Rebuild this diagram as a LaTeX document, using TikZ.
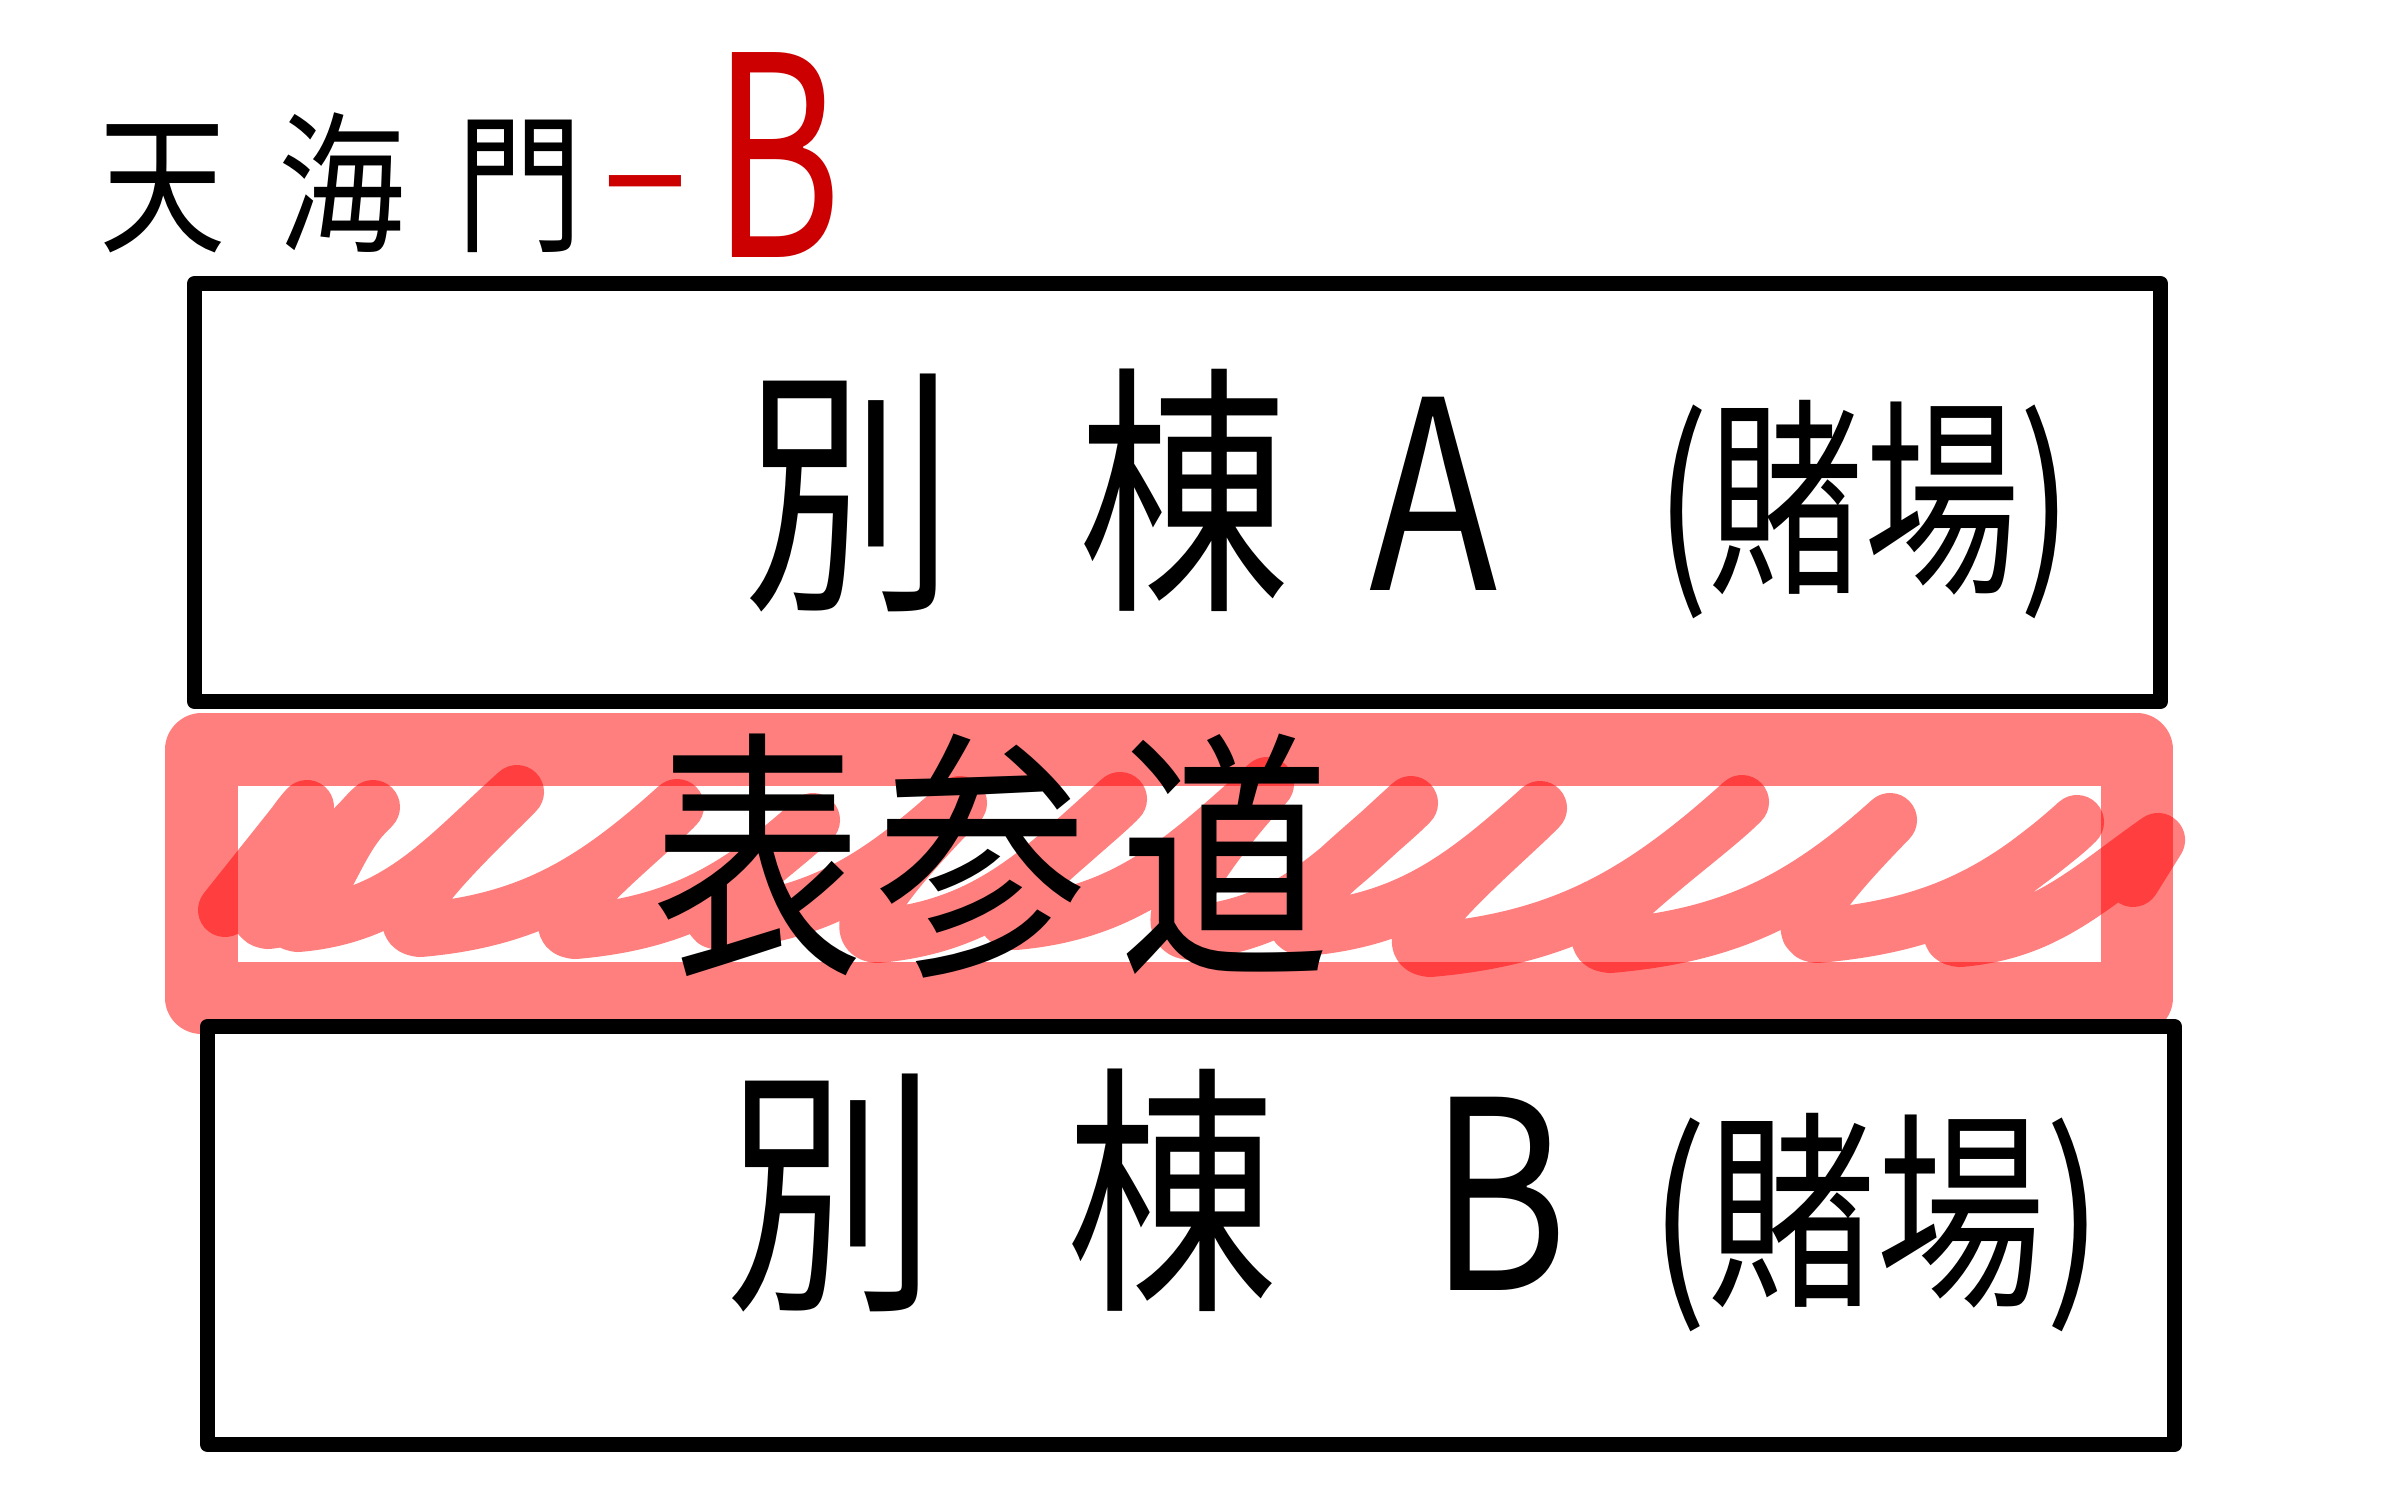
\documentclass[tikz,border=0pt]{standalone}
\usepackage{fontspec}
\setmainfont{Noto Sans CJK JP}
\usepackage{graphicx}
\usepackage{tikz}

\definecolor{penred}{HTML}{CC0000}

\tikzset{
  boxline/.style={line width=0.15cm, line join=round},
  band/.style={red, opacity=0.5, line width=0.72cm, line join=round},
  wave/.style={red, opacity=0.5, line width=0.54cm, line cap=round, line join=round},
  loopup/.style={out=5, in=222},
  loopdown/.style={out=226, in=175, looseness=0.7},
  handtext/.style={inner sep=0, anchor=base west, yscale=1.25, font=\fontsize{60}{60}\selectfont},
  headtext/.style={inner sep=0, anchor=base west, yscale=1.2, font=\fontsize{36}{36}\selectfont}
}

\begin{document}
\begin{tikzpicture}[x=0.01cm, y=0.01cm]
\useasboundingbox (0,0) rectangle (2386,-1491);

% street band and scribble
\draw[band] (201.5,-749.5) rectangle (2136.5,-998);
\draw[wave] (225,-910) -- (307,-807)
  to[loopdown] (268,-922) to[loopup] (373,-807)
  to[loopdown] (298,-925) to[loopup] (517,-792)
  to[loopdown] (420,-930) to[loopup] (677,-806)
  to[loopdown] (575,-932) to[loopup] (813,-820)
  to[loopdown] (720,-923) to[loopup] (960,-803)
  to[loopdown] (877,-936) to[loopup] (1120,-799)
  to[loopdown] (1015,-923) to[loopup] (1267,-784)
  to[loopdown] (1190,-933) to[loopup] (1411,-803)
  to[loopdown] (1305,-929) to[loopup] (1540,-808)
  to[loopdown] (1430,-950) to[loopup] (1742,-802)
  to[loopdown] (1610,-946) to[loopup] (1890,-820)
  to[loopdown] (1817,-936) to[loopup] (2077,-822)
  to[loopdown] (1960,-940) to[out=5,in=215] (2158,-840) -- (2133,-880);

% buildings
\draw[boxline] (194.5,-283.5) rectangle (2160.5,-701.5);
\draw[boxline] (207.5,-1026.5) rectangle (2174.5,-1444.5);

% texts
\node[headtext] (gate) at (99,-240) {天\hspace{0.52cm}海\hspace{0.52cm}門};
\node[inner sep=0, anchor=base west, text=penred] (gateno) at (596,-257)
  {\raisebox{0.30cm}{\scalebox{2}[1.15]{\fontsize{40}{40}\selectfont -}}\hspace{0.18cm}\scalebox{1}[1.42]{\fontsize{56}{56}\selectfont B}};

\node[handtext] (annexA) at (743,-590)
  {別\hspace{1.24cm}棟\hspace{0.8cm}A\hspace{1.58cm}\raisebox{0.1cm}{\scalebox{0.92}[1]{\fontsize{48}{48}\selectfont (賭場)}}};
\node[handtext] (street) at (652,-955) {表\hspace{0.13cm}参\hspace{0.32cm}道};
\node[handtext] (annexB) at (725,-1290)
  {別\hspace{1.3cm}棟\hspace{1.52cm}B\hspace{0.82cm}{\fontsize{48}{48}\selectfont (賭場)}};

\end{tikzpicture}
\end{document}
